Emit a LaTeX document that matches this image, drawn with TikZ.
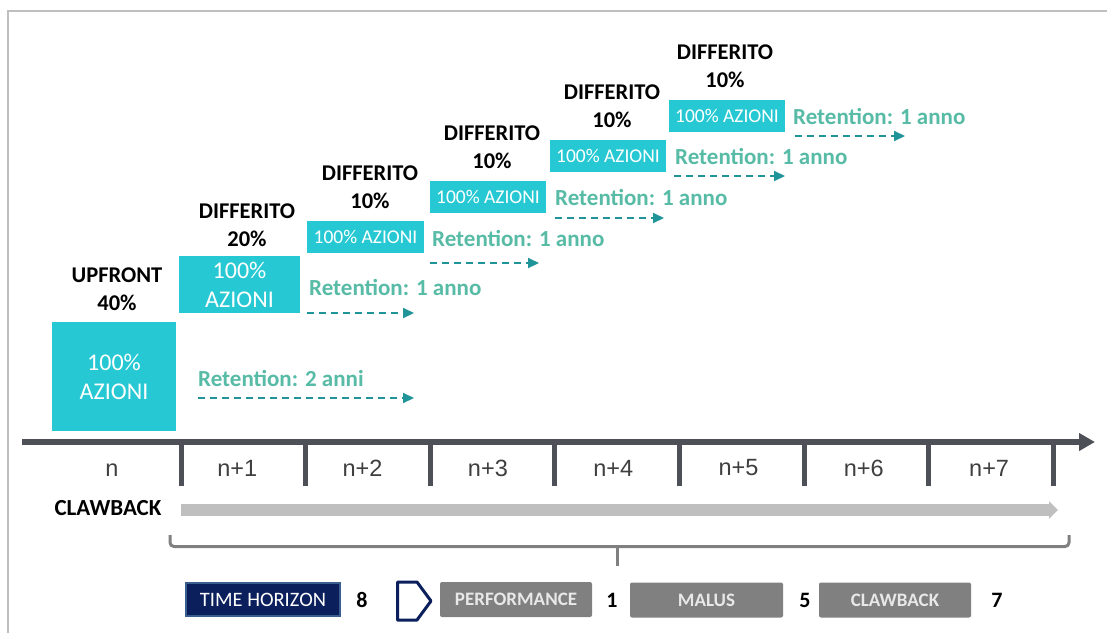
\documentclass[tikz,border=0pt]{standalone}
\usepackage{fontspec}
\setmainfont{Carlito}
\newfontfamily\arialf{Liberation Sans}
\usetikzlibrary{arrows.meta}
\definecolor{cyanbox}{HTML}{26C9D3}
\definecolor{rettext}{HTML}{57BBA6}
\definecolor{retarrow}{HTML}{1F959A}
\definecolor{axisc}{HTML}{4D5157}
\definecolor{ticklab}{HTML}{3F3F3F}
\definecolor{barc}{HTML}{BFBFBF}
\definecolor{framec}{HTML}{BFBFBF}
\definecolor{bracketc}{HTML}{808080}
\definecolor{navyc}{HTML}{0B1F5C}
\definecolor{navyedge}{HTML}{3A5F8F}
\definecolor{legc}{HTML}{808080}
\definecolor{legtext}{HTML}{E8E8E8}
\tikzset{
  abox/.style={fill=cyanbox, text=white, inner sep=0pt, align=center},
  bigtxt/.style={font=\fontsize{24}{29}\selectfont},
  smalltxt/.style={font=\fontsize{19.5}{22}\selectfont},
  head/.style={inner sep=0pt, align=center, text=black, font=\bfseries\fontsize{22.5}{28}\selectfont},
  rettxt/.style={inner sep=0pt, anchor=west, text=rettext, font=\bfseries\fontsize{23}{26}\selectfont},
  retarr/.style={draw=retarrow, line width=2pt, dash pattern=on 7pt off 5pt, -{Triangle[length=11pt,width=10pt]}},
  ticklabel/.style={inner sep=0pt, text=ticklab, font=\arialf\fontsize{23.5}{26}\selectfont},
  tickline/.style={draw=axisc, line width=5pt},
  legbox/.style={fill=legc, text=legtext, rounded corners=2pt, inner sep=0pt, minimum width=152pt, minimum height=35pt, font=\bfseries\fontsize{19}{22}\selectfont},
  legnum/.style={inner sep=0pt, text=black, font=\bfseries\fontsize{22}{26}\selectfont}
}
\begin{document}
\begin{tikzpicture}[x=1pt,y=-1pt]
\useasboundingbox (0,0) rectangle (1107,632);
\fill[white] (0,0) rectangle (1107,632);
% frame
\draw[framec, line width=2.5pt] (8,640) -- (8,11) -- (1112,11);

% cyan boxes
\node[abox, bigtxt, minimum width=124pt, minimum height=109pt] (b1) at (114,376.5) {100\%\\AZIONI};
\node[abox, bigtxt, minimum width=121pt, minimum height=57pt] (b2) at (239.5,284.5) {100\%\\AZIONI};
\node[abox, smalltxt, minimum width=117pt, minimum height=32pt] (b3) at (365.5,237) {100\% AZIONI};
\node[abox, smalltxt, minimum width=116pt, minimum height=32pt] (b4) at (488,197) {100\% AZIONI};
\node[abox, smalltxt, minimum width=116pt, minimum height=32pt] (b5) at (608,156) {100\% AZIONI};
\node[abox, smalltxt, minimum width=116pt, minimum height=32pt] (b6) at (727,116) {100\% AZIONI};

% headings
\node[head] (h1) at (117,289) {UPFRONT\\40\%};
\node[head] (h2) at (247,225) {DIFFERITO\\20\%};
\node[head] (h3) at (370,187.5) {DIFFERITO\\10\%};
\node[head] (h4) at (492,147.5) {DIFFERITO\\10\%};
\node[head] (h5) at (612,106) {DIFFERITO\\10\%};
\node[head] (h6) at (725,66.5) {DIFFERITO\\10\%};

% retention labels
\node[rettxt] (r1) at (198,378) {Retention: 2 anni};
\node[rettxt] (r2) at (309,287) {Retention: 1 anno};
\node[rettxt] (r3) at (432,238) {Retention: 1 anno};
\node[rettxt] (r4) at (555,197) {Retention: 1 anno};
\node[rettxt] (r5) at (675,156) {Retention: 1 anno};
\node[rettxt] (r6) at (793,116) {Retention: 1 anno};

% retention arrows
\coordinate (a1s) at (198,398); \coordinate (a1e) at (414,398);
\coordinate (a2s) at (307,313); \coordinate (a2e) at (414,313);
\coordinate (a3s) at (430,263); \coordinate (a3e) at (539,263);
\coordinate (a4s) at (555,218); \coordinate (a4e) at (664,218);
\coordinate (a5s) at (674,176); \coordinate (a5e) at (785,176);
\coordinate (a6s) at (795,136); \coordinate (a6e) at (905,136);
\draw[retarr] (a1s) -- (a1e);
\draw[retarr] (a2s) -- (a2e);
\draw[retarr] (a3s) -- (a3e);
\draw[retarr] (a4s) -- (a4e);
\draw[retarr] (a5s) -- (a5e);
\draw[retarr] (a6s) -- (a6e);

% time axis
\coordinate (ax0) at (22,442);
\coordinate (ax1) at (1095,442);
\draw[axisc, line width=6pt, -{Triangle[length=16pt,width=17pt]}] (ax0) -- (ax1);
\foreach \k in {0,...,7}{
  \coordinate (t\k a) at (181+124.6*\k,440);
  \coordinate (t\k b) at (181+124.6*\k,486);
  \draw[tickline] (t\k a) -- (t\k b);
}
\node[ticklabel] (l0) at (112,470) {n};
\foreach \k in {1,...,7}{
  \node[ticklabel] (l\k) at (112+125.3*\k,468) {n+\k};
}

% clawback bar
\node[inner sep=0pt, text=black, font=\bfseries\fontsize{23}{26}\selectfont] (cb) at (108,508) {CLAWBACK};
\coordinate (bar0) at (181,510);
\coordinate (bar1) at (1058,510);
\draw[barc, line width=12pt, -{Triangle[length=9pt,width=17pt]}] (bar0) -- (bar1);

% bracket
\coordinate (br0) at (170,535);
\coordinate (br1) at (170,546.5);
\coordinate (br2) at (1069,546.5);
\coordinate (br3) at (1069,535);
\coordinate (brm) at (617,546.5);
\coordinate (brs) at (617,566);
\draw[bracketc, line width=3pt, rounded corners=4pt] (br0) -- (br1) -- (br2) -- (br3);
\draw[bracketc, line width=3pt] (brm) -- (brs);

% legend
\node[fill=navyc, draw=navyedge, line width=2.5pt, text=white, inner sep=0pt, minimum width=154pt, minimum height=33pt, font=\fontsize{20.5}{22}\selectfont] (th) at (263,599.5) {TIME HORIZON};
\node[legnum] (n8) at (362,600) {8};
\coordinate (ch1) at (397.5,582);
\coordinate (ch2) at (417,582);
\coordinate (ch3) at (431,601);
\coordinate (ch4) at (417,620);
\coordinate (ch5) at (397.5,620);
\draw[navyc, line width=3pt, line join=round, fill=white] (ch1) -- (ch2) -- (ch3) -- (ch4) -- (ch5) -- cycle;
\node[legbox] (pf) at (516,599.5) {PERFORMANCE};
\node[legnum] (n1) at (612,600) {1};
\node[legbox, minimum width=153pt] (ml) at (706.5,600) {MALUS};
\node[legnum] (n5) at (805,600) {5};
\node[legbox] (cl) at (895,600) {CLAWBACK};
\node[legnum] (n7) at (997,600) {7};
\end{tikzpicture}
\end{document}
